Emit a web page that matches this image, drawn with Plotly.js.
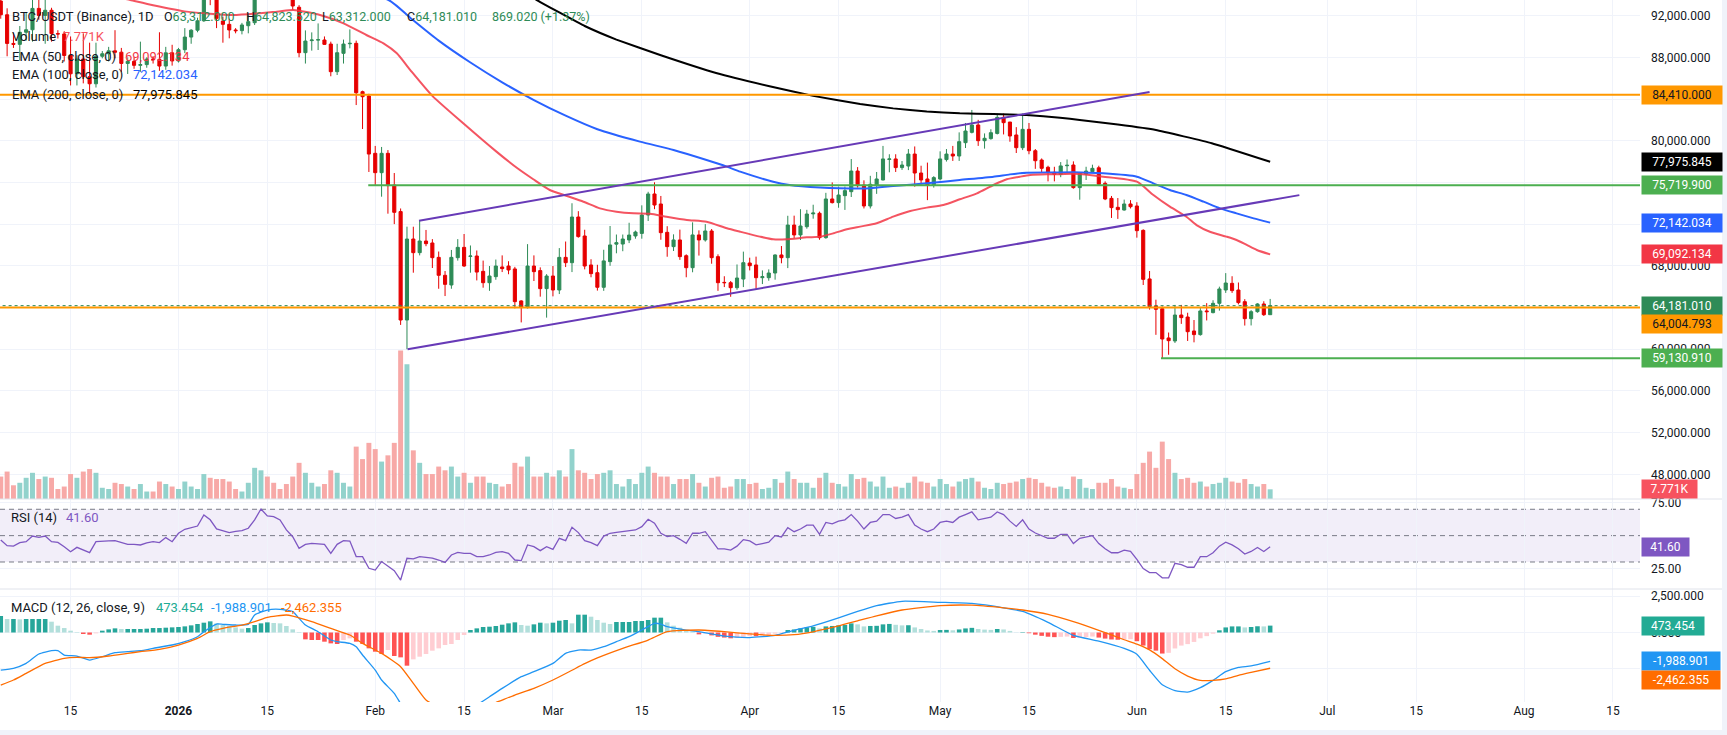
<!DOCTYPE html>
<html>
<head>
<meta charset="utf-8">
<script src="https://cdn.plot.ly/plotly-3.0.1.min.js"></script>
<style>
html,body{margin:0;padding:0;background:#ffffff;}
#chart{width:1727px;height:735px;}
</style>
</head>
<body>
<div id="chart"></div>
<script>
// ---- BTC/USDT daily candles, first bar = 2025-12-04 (day -28 relative to 2026-01-01) ----
const firstDay = -28;

const open = [
93400,92080,89330,89240,90400,90640,92690,92020,92510,90270,
90240,88170,86420,87840,86140,85460,88100,88340,88620,88490,
87410,87610,87230,87300,87830,87800,87160,88430,87650,88730,
89940,90600,91500,93880,93700,91480,91160,90620,90560,91030,
91320,95400,96900,95600,95500,95100,93900,92800,88445,89600,
89650,89660,89270,86620,88380,89300,89340,84700,84290,78790,
76935,78790,75750,73200,62800,70570,69260,70380,70190,68810,
67090,66160,68780,69770,68900,68940,67470,66380,66960,67890,
67980,67700,64630,63990,67980,67540,65810,67020,65680,68810,
68300,72680,70860,68080,67340,65940,68400,70080,70090,70480,
70860,71110,72870,74890,73930,71210,69840,70480,68970,67820,
70960,70480,71340,68880,66410,66380,65900,66730,68270,68080,
66860,66860,67310,69040,68780,71910,70960,71750,72980,73040,
70700,74410,74060,74730,75110,77090,75750,73740,75750,76230,
78200,78250,77420,77570,78720,76900,76330,75750,76330,78190,
78720,78530,79810,80800,81510,80000,80200,80700,82240,81790,
80550,79330,81090,79040,78150,77450,76970,76780,77600,77670,
75500,76810,77030,77400,75910,74470,73610,73350,73930,73740,
71400,66740,64150,63890,61080,60790,63280,63090,61750,61400,
63670,63510,64400,65680,66320,65680,64560,62930,63600,64340,
63312];

const high = [
94100,92700,90300,91000,92300,94600,94400,93500,92750,90600,
90500,90000,88200,90300,89400,89400,88600,89000,90600,88900,
88000,88000,89500,88000,88100,90400,89000,89200,88900,90800,
90700,91800,94700,94800,94000,91900,91700,90800,91300,92200,
96200,97900,97200,95900,95700,95400,94000,93000,90580,90390,
91250,90000,89500,89300,89700,90680,89600,84800,84500,79500,
79400,79100,76900,73500,71755,71750,72300,71440,70560,69370,
67500,69520,70560,71050,69950,69470,68500,67980,68600,69000,
68440,67900,64700,70080,69000,67850,67200,67980,69700,70330,
74000,73240,71460,68630,68100,69540,71820,71000,71000,72130,
71380,73800,75100,76010,74700,71800,71020,71470,69100,72170,
71400,72000,71530,69100,67000,66540,68130,69360,68780,68880,
67560,67660,69100,69900,72800,72810,73430,73370,73860,73200,
75000,76000,75600,75600,78240,77470,76200,76630,77000,79500,
78700,78700,78050,79200,79450,77600,77900,76600,78980,79200,
79500,80800,81700,82950,82000,80700,81100,82600,82600,81800,
81300,82600,81700,79200,78300,77600,77500,77950,78200,78020,
77000,77500,77700,77600,76100,74700,74500,74350,74300,74100,
71500,67500,64750,64100,61600,64250,64250,63500,62800,64000,
64420,64700,66000,67300,67000,66400,64800,63750,64410,64600,
64823.52];

const low = [
91700,88100,88900,87700,89600,89500,91600,89300,89500,89800,
87600,85300,85300,85500,84450,85100,87900,87600,87900,86600,
86400,86900,86600,87000,87400,86700,86800,87200,87500,88400,
89300,90400,91400,93000,90800,89400,89820,90300,90200,90300,
91100,94800,95100,94300,94900,93700,92540,88000,87400,88640,
88700,89200,86180,86300,87400,88860,83420,81120,77000,75750,
74630,73000,72000,62330,60000,67340,69000,69880,67790,65800,
65100,65800,68500,67900,67340,66600,65900,65600,66660,67400,
67190,63920,62570,63900,66540,65040,63030,65070,65290,67880,
67400,70700,67660,66900,65620,65600,68000,69200,69400,70180,
70600,70600,72300,73430,70500,68870,69420,68570,66900,67380,
68980,70320,68200,65600,65960,65030,65700,65960,67560,65800,
66250,66570,66670,68240,67780,70640,70480,71560,72520,70500,
70600,73980,73570,73360,74600,75500,73500,73500,74900,76200,
76970,77000,77200,77180,75590,75790,74300,75500,76200,78000,
78060,78060,79300,80700,79500,79240,80100,80600,80600,79900,
78820,79100,78700,77300,76900,76100,76100,76500,77000,75400,
74340,76230,76900,75700,74300,72590,72500,73300,73500,70700,
66160,63800,61380,59130.91,59470,60600,62430,60790,60660,61300,
62760,63440,63700,65400,65400,64300,62270,62280,63500,63190,
63312];

const close = [
92080,89330,89240,90400,90640,92690,92020,92510,90270,90240,
88170,86420,87840,86140,85460,88100,88340,88620,88490,87410,
87610,87230,87300,87830,87800,87160,88430,87650,88730,89940,
90600,91500,93880,93700,91740,91160,90620,90550,91100,91420,
95400,96900,95600,95500,95100,93900,92920,88445,89560,89660,
89690,89240,86620,88440,89270,89340,84600,84220,78720,76935,
78790,75690,73130,62800,70570,69260,70380,70125,68780,67090,
66220,68810,69770,67980,68940,67400,66380,67020,67980,67730,
67600,64560,63990,67980,67440,65810,67020,65680,68810,68300,
72680,70800,67980,67250,65940,68470,70000,70220,70570,70950,
71240,72870,74890,73830,71180,69840,70480,68880,67820,70960,
70480,71340,68780,66380,66380,65900,66830,68300,68010,66860,
66960,67310,69040,68780,71910,70960,71820,72970,73060,70700,
74410,74060,74790,75210,77090,75690,73740,75820,76330,78250,
78250,77420,77670,78720,76900,76230,75750,76460,78250,78720,
78530,79910,80930,81510,80000,80230,80770,82240,81730,80450,
79330,81090,79040,78080,77350,76940,76780,77580,77640,75500,
76870,77090,77350,75820,74410,73580,73390,73930,73670,71370,
66700,64080,63830,60980,60820,63280,63030,61680,61400,63670,
63600,64400,65780,66350,65620,64470,62930,63600,64340,63311.99,
64181.01];

// volume, thousands of BTC
const volumeK = [
18,22,11,13,17,21,16,18,17,8,10,20,17,22,24,21,9,8,13,12,10,8,12,6,6,14,12,10,
8,14,10,8,20,17,16,16,14,8,6,13,25,23,18,13,8,12,18,29,21,13,10,12,23,21,13,10,42,32,45,
40,30,35,45,119,108,39,29,20,20,26,23,26,18,21,13,18,18,13,12,10,12,29,26,34,18,18,21,
18,23,18,40,23,21,16,20,21,23,12,10,16,12,21,26,21,18,18,12,16,16,20,13,10,17,18,9,10,16,16,
12,13,8,9,16,13,22,16,13,13,9,17,21,13,12,10,20,16,17,14,10,18,9,10,9,13,18,14,13,10,
16,12,10,14,16,17,14,9,8,13,12,13,14,16,17,16,13,10,9,10,8,18,16,9,8,13,13,16,10,9,8,
20,29,38,25,46,32,21,16,17,13,14,10,12,13,17,14,13,16,12,10,12,7.771];

// RSI(14), one value per bar
const rsi = [
46.7,42.4,42.1,44.7,45.4,49.7,48.7,49.7,45.4,44.9,41.6,37.8,41.1,39,37.1,45.4,45.9,46,46.2,44.5,43.4,43.4,42.9,44.5,45.4,44.7,48.5,45.4,
51.8,54.8,56,57.3,65.7,62,55.1,53.8,52.3,53.3,53.8,55.6,61.9,70.2,64.9,64.4,61.9,54.3,49.2,40.4,43.4,44.2,44,43.4,36.6,43.4,46.2,45.9,34.1,34.1,25.2,
23.9,30.3,26.5,23.4,16.3,32.8,32.3,34.1,33.5,33,31.5,29.7,35.3,37.3,36.5,36.5,34.1,34.1,35.3,37.3,37.8,36.5,31.5,31,42.9,41.6,38.6,41.6,
39.6,48,46.2,56.3,52.3,46.2,44.7,42.4,49.7,51.8,52.5,53,53.3,54.3,56.8,62.4,59.4,51.8,49.2,50,47.2,44.2,51.8,51.8,53,46,40,40,39,42,47,
46,43,44,45,50,49,56,53,55,58,58,51,60,59,61,62,66,61,55,60,61,66,66,63,64,66,58,55,53,55,
60,61,60,64,66,68,62,63,64,68,66,61,57,62,55,52,50,48,48,51,51,44,48,49,50,44,40,37,37,39,38,
32,25,22,22,18,18,29,28,26,26,34,34,37,42,45,43,40,36,38,41,38,41.6];

// MACD(12,26,9) histogram, one value per bar
const macdHist = [
1135,928,928,905,928,928,928,928,745,469,308,125,33,-105,-151,-59,125,217,285,240,
240,240,240,262,308,308,331,354,377,423,492,584,676,768,630,515,446,354,262,308,
515,630,699,653,630,446,217,33,-472,-518,-518,-633,-748,-794,-518,-403,-633,-794,-1092,-1322,
-1483,-1207,-1620,-1712,-2286,-1850,-1666,-1483,-1253,-1092,-862,-794,-518,-174,171,285,377,400,446,538,
630,699,515,469,561,676,630,676,814,860,630,1227,1227,1089,860,676,584,722,722,722,
791,791,860,1021,1021,699,469,331,171,56,-128,-59,
-200,-300,-350,-400,-380,-300,-250,-250,-220,-180,
-80,-30,170,210,280,360,390,280,420,450,
490,520,630,560,420,450,460,560,590,530,
490,500,350,240,140,110,170,180,150,210,
280,320,240,200,180,240,210,110,15,30,
-50,-150,-230,-290,-320,-300,-280,-380,-360,-320,
-280,-350,-420,-480,-500,-470,-460,-600,-900,-1150,
-1250,-1450,-1400,-1100,-900,-800,-650,-400,-250,-80,
150,350,420,420,350,380,430,420,473.454];

// MACD and signal lines, sampled (day relative to 2026-01-01, value)
const macdDays = [-28,-26,-24,-22,-20,-19,-18,-16,-14,-12,-10,-8,-6,-4,-1,1,3,4,6,7,9,11,12,14,16,18,19,20,22,24,25,27,28,29,31,32,34,35,36,38,41,44,47,49,51,54,56,59,61,63,65,67,69,71,73,75,76,77,80,82,86,90,94,97,100,104,107,110,114,120,125,130,133,137,141,145,149,151,153,155,157,159,161,163,165,167,169,172];
const macdVals = [-2585,-2470,-2125,-1483,-1253,-1253,-1551,-1620,-1896,-1666,-1391,-1322,-1253,-1092,-862,-633,-289,56,584,561,515,561,1204,1548,1594,1433,974,515,56,-518,-633,-748,-977,-1551,-2585,-3273,-4192,-4900,-5500,-6100,-6300,-5800,-5000,-4422,-3847,-3044,-2699,-2125,-1437,-1207,-1207,-977,-633,-289,171,630,584,400,171,56,-250,-350,-200,150,450,1000,1450,1850,2150,2080,2000,1700,1450,700,-200,-600,-1100,-1500,-2600,-3600,-4000,-4100,-3800,-3300,-2700,-2400,-2300,-1988.901];
const signalDays = [-28,-26,-24,-21,-18,-16,-14,-11,-8,-6,-3,0,3,5,7,10,12,14,17,18,21,24,27,29,32,35,37,39,41,44,47,49,51,53,56,59,62,64,66,70,74,77,82,86,90,94,97,100,104,107,110,114,120,125,130,133,137,141,145,149,151,153,155,157,159,161,163,165,167,169,172];
const signalVals = [-3618,-3273,-2814,-2125,-1781,-1712,-1735,-1620,-1437,-1322,-1161,-862,-403,56,285,515,745,1043,1204,1135,745,285,-174,-748,-1437,-2355,-3503,-4651,-5100,-5500,-5300,-5000,-4651,-4307,-3847,-3273,-2600,-2150,-1750,-1092,-518,56,171,60,-100,-200,-150,50,450,800,1150,1550,1850,1880,1700,1550,1250,750,150,-500,-800,-1200,-1800,-2500,-3000,-3300,-3300,-3200,-2950,-2750,-2462.355];

// Moving averages, sampled
const ema50Days = [-28,-20,-12,-7.6,-4,1.3,8.6,15.5,18.1,22.3,26,29.6,32.3,34.4,36.5,40,45,50,53.3,55.9,58.5,61.2,63.8,66.4,69,71.7,74.3,76.9,80.1,83.2,86.4,88.5,91.6,93.7,95.8,99,101.1,103.2,105.3,107.4,110,112.6,115.3,117.9,120.5,123.1,125.8,128.4,130.5,132.6,134.2,136.8,138.9,141,145.7,151,153.6,156.2,158.8,160.4,162.5,165.1,166.7,168.3,169.9,172];
const ema50Vals = [96300,95000,94100,93496,93000,92380,92060,92380,92540,92060,91260,90140,89340,88380,86800,84300,81600,79000,77400,76300,75270,74700,74150,73510,73190,73030,72990,72710,72400,72230,71600,71270,70800,70540,70540,70730,70800,71120,71500,71760,72080,72715,73260,73580,73830,74380,74950,75750,76300,76550,76710,76780,76780,76820,76550,76070,74790,73670,72710,71910,71270,70800,70480,70000,69520,69092.134];
const ema100Days = [-28,0,20,33.1,36.5,41,46,51,56,61,66,72.7,78,83.2,86.4,88.5,93.7,96.3,101.1,104.2,109,112.6,117.9,123.1,128.4,131,133.6,138,141,145.7,151,153.6,156.2,158.8,161.5,164.1,166.7,169.4,172];
const ema100Vals = [98500,96800,95300,93496,91800,89600,87500,85600,83900,82400,81100,79910,79110,78150,77510,77030,76070,75750,75500,75430,75430,75660,75910,76230,76550,76770,76930,76950,76980,76870,76550,75910,75270,74790,74150,73510,73030,72550,72142.034];
const ema200Days = [-28,0,28,40,48,52,55,57,60,64,69,76,84.7,93.3,100,107.4,112.6,117.9,123.1,128.4,133.6,138.9,142,148,154,162.8,172];
const ema200Vals = [104500,102000,99600,97600,95800,94900,94000,93300,92300,91000,89700,88200,86500,85200,84300,83520,83100,82790,82630,82560,82470,82210,81990,81550,81030,79760,77975.845];

// Drawings: horizontal levels and the rising channel
const levelPrices = [84410, 64004.793, 75719.9, 59130.91];
const levelStartDays = [-40, -40, 29.9, 154.8];
const levelColors = ['#ff9800', '#ff9800', '#4caf50', '#4caf50'];
const channelUpperDays = [37.9, 153.0];
const channelUpperPrices = [72330, 84670];
const channelLowerDays = [36.1, 176.6];
const channelLowerPrices = [59990, 74780];

// Time axis labels
const tickDates = ['2025-12-15','2026-01-01','2026-01-15','2026-02-01','2026-02-15','2026-03-01','2026-03-15','2026-04-01','2026-04-15','2026-05-01','2026-05-15','2026-06-01','2026-06-15','2026-07-01','2026-07-15','2026-08-01','2026-08-15'];
const tickLabels = ['15','<b>2026</b>','15','Feb','15','Mar','15','Apr','15','May','15','Jun','15','Jul','15','Aug','15'];

// ---------------------------------------------------------------
const DAY = 86400000;
const BASE = Date.UTC(2026, 0, 1);
function dayX(d) { return new Date(BASE + d * DAY).toISOString().slice(0, 19).replace('T', ' '); }
const dates = open.map((_, i) => dayX(firstDay + i));
const last = close.length - 1;

const W = 1727, H = 735, PLOT_W = 1640, PLOT_H = 702;
const px = x => x / PLOT_W;            // pixel -> paper x
const py = y => (PLOT_H - y) / PLOT_H; // pixel -> paper y

const UP = '#2e8b57', DOWN = '#e60000';
const FONT = 'Roboto, "Liberation Sans", Arial, sans-serif';
const TXT = '#131722';
const GRID = '#f0f3fa';

const volColors = close.map((c, i) => c >= open[i] ? '#92d2cc' : '#f7a9a7');
const histColors = macdHist.map((v, i) => {
  const prev = i > 0 ? macdHist[i - 1] : v;
  if (v >= 0) return v >= prev ? '#26a69a' : '#b2dfdb';
  return v <= prev ? '#ff5252' : '#ffcdd2';
});

const traces = [
  { type: 'bar', x: dates, y: volumeK, xaxis: 'x', yaxis: 'y',
    marker: { color: volColors, line: { width: 0 } }, width: 0.78 * DAY, hoverinfo: 'skip' },
  { type: 'candlestick', x: dates, open: open, high: high, low: low, close: close,
    xaxis: 'x', yaxis: 'y2',
    increasing: { line: { color: UP, width: 1 }, fillcolor: UP },
    decreasing: { line: { color: DOWN, width: 1 }, fillcolor: DOWN },
    whiskerwidth: 0, hoverinfo: 'skip' },
  { type: 'scatter', mode: 'lines', x: ema200Days.map(dayX), y: ema200Vals, xaxis: 'x', yaxis: 'y2',
    line: { color: '#000000', width: 2, shape: 'spline', smoothing: 0.3 }, hoverinfo: 'skip' },
  { type: 'scatter', mode: 'lines', x: ema100Days.map(dayX), y: ema100Vals, xaxis: 'x', yaxis: 'y2',
    line: { color: '#2962ff', width: 2, shape: 'spline', smoothing: 0.6 }, hoverinfo: 'skip' },
  { type: 'scatter', mode: 'lines', x: ema50Days.map(dayX), y: ema50Vals, xaxis: 'x', yaxis: 'y2',
    line: { color: 'rgba(242,54,69,0.85)', width: 2, shape: 'spline', smoothing: 0.6 }, hoverinfo: 'skip' },
  { type: 'scatter', mode: 'lines', x: dates, y: rsi, xaxis: 'x', yaxis: 'y3',
    line: { color: '#7e57c2', width: 1.3 }, hoverinfo: 'skip' },
  { type: 'bar', x: dates, y: macdHist, xaxis: 'x', yaxis: 'y4',
    marker: { color: histColors, line: { width: 0 } }, width: 0.72 * DAY, hoverinfo: 'skip' },
  { type: 'scatter', mode: 'lines', x: macdDays.map(dayX), y: macdVals, xaxis: 'x', yaxis: 'y4',
    line: { color: '#2196f3', width: 1.3, shape: 'spline', smoothing: 0.5 }, hoverinfo: 'skip' },
  { type: 'scatter', mode: 'lines', x: signalDays.map(dayX), y: signalVals, xaxis: 'x', yaxis: 'y4',
    line: { color: '#ff6d00', width: 1.3, shape: 'spline', smoothing: 0.5 }, hoverinfo: 'skip' }
];

const shapes = [];
// RSI band and guides
shapes.push({ type: 'rect', xref: 'paper', yref: 'y3', x0: 0, x1: 1, y0: 30, y1: 70,
  fillcolor: 'rgba(126,87,194,0.1)', line: { width: 0 }, layer: 'below' });
[70, 50, 30].forEach(v => shapes.push({ type: 'line', xref: 'paper', yref: 'y3', x0: 0, x1: 1, y0: v, y1: v,
  line: { color: '#787b86', width: 1, dash: '5px,4px' }, layer: 'below' }));
// horizontal levels
levelPrices.forEach((p, i) => shapes.push({ type: 'line', xref: 'x', yref: 'y2',
  x0: dayX(levelStartDays[i]), x1: dayX(260), y0: p, y1: p,
  line: { color: levelColors[i], width: 2 }, layer: 'above' }));
// last price line
shapes.push({ type: 'line', xref: 'x', yref: 'y2', x0: dayX(-40), x1: dayX(260),
  y0: close[last], y1: close[last], line: { color: UP, width: 1, dash: 'dot' }, layer: 'above' });
// channel
shapes.push({ type: 'line', xref: 'x', yref: 'y2',
  x0: dayX(channelUpperDays[0]), x1: dayX(channelUpperDays[1]), y0: channelUpperPrices[0], y1: channelUpperPrices[1],
  line: { color: '#673ab7', width: 2 }, layer: 'above' });
shapes.push({ type: 'line', xref: 'x', yref: 'y2',
  x0: dayX(channelLowerDays[0]), x1: dayX(channelLowerDays[1]), y0: channelLowerPrices[0], y1: channelLowerPrices[1],
  line: { color: '#673ab7', width: 2 }, layer: 'above' });
// pane separators
[499, 589].forEach(y => shapes.push({ type: 'line', xref: 'paper', yref: 'paper',
  x0: 0, x1: px(1722), y0: py(y), y1: py(y), line: { color: '#e0e3eb', width: 1 } }));
// outer frame
shapes.push({ type: 'rect', xref: 'paper', yref: 'paper', x0: px(0), x1: px(W), y0: py(730), y1: py(H + 2),
  fillcolor: '#f0f3fa', line: { width: 0 } });
shapes.push({ type: 'rect', xref: 'paper', yref: 'paper', x0: px(1722), x1: px(W + 2), y0: py(H + 2), y1: py(-2),
  fillcolor: '#f0f3fa', line: { width: 0 } });

const annotations = [];
function txt(x, y, text, color, size) {
  annotations.push({ xref: 'paper', yref: 'paper', x: px(x), y: py(y), xanchor: 'left', yanchor: 'middle',
    text: text, showarrow: false, font: { family: FONT, size: size || 13, color: color } });
}
const fmt = (v, d) => v.toLocaleString('en-US', { minimumFractionDigits: d, maximumFractionDigits: d });
const chg = close[last] - close[last - 1];
const chgPct = chg / close[last - 1] * 100;

txt(10, 17, 'BTC/USDT (Binance), 1D', TXT);
txt(162, 17, 'O<span style="color:' + UP + '">' + fmt(open[last], 3) + '</span>', TXT, 12.5);
txt(244, 17, 'H<span style="color:' + UP + '">' + fmt(high[last], 3) + '</span>', TXT, 12.5);
txt(320, 17, 'L<span style="color:' + UP + '">' + fmt(low[last], 3) + '</span>', TXT, 12.5);
txt(405, 17, 'C<span style="color:' + UP + '">' + fmt(close[last], 3) + '</span>', TXT, 12.5);
txt(490, 17, fmt(chg, 3) + ' (+' + chgPct.toFixed(2) + '%)', UP, 12.5);
txt(10, 37, 'Volume', TXT);
txt(61, 37, fmt(volumeK[last], 3) + 'K', '#f7525f');
txt(10, 56, 'EMA (50, close, 0)', TXT);
txt(123, 56, fmt(ema50Vals[ema50Vals.length - 1], 3), '#f23645');
txt(10, 75, 'EMA (100, close, 0)', TXT);
txt(131, 75, fmt(ema100Vals[ema100Vals.length - 1], 3), '#2962ff');
txt(10, 94, 'EMA (200, close, 0)', TXT);
txt(131, 94, fmt(ema200Vals[ema200Vals.length - 1], 3), '#000000');
txt(9, 517, 'RSI (14)', TXT);
txt(64, 517, rsi[last].toFixed(2), '#7e57c2');
txt(9, 607, 'MACD (12, 26, close, 9)', TXT);
txt(154, 607, fmt(macdHist[last], 3), '#22ab94');
txt(209, 607, fmt(macdVals[macdVals.length - 1], 3), '#2196f3');
txt(279, 607, fmt(signalVals[signalVals.length - 1], 3), '#ff6d00');

function tag(yref, value, text, bg, fg, width, shift) {
  annotations.push({ xref: 'paper', yref: yref, x: px(1641), y: value, xanchor: 'left', yanchor: 'middle',
    yshift: shift || 0, text: text, showarrow: false, bgcolor: bg, borderpad: 0,
    width: width, height: 18, align: 'center',
    font: { family: FONT, size: 12, color: fg } });
}
tag('y2', levelPrices[0], fmt(levelPrices[0], 3), '#ff9800', TXT, 80);
tag('y2', ema200Vals[ema200Vals.length - 1], fmt(ema200Vals[ema200Vals.length - 1], 3), '#000000', '#ffffff', 80);
tag('y2', levelPrices[2], fmt(levelPrices[2], 3), '#4caf50', '#ffffff', 80);
tag('y2', ema100Vals[ema100Vals.length - 1], fmt(ema100Vals[ema100Vals.length - 1], 3), '#2962ff', '#ffffff', 80);
tag('y2', ema50Vals[ema50Vals.length - 1], fmt(ema50Vals[ema50Vals.length - 1], 3), '#f23645', '#ffffff', 80);
tag('y2', close[last], fmt(close[last], 3), UP, '#ffffff', 80);
tag('y2', levelPrices[1], fmt(levelPrices[1], 3), '#ff9800', TXT, 80, -17);
tag('y2', levelPrices[3], fmt(levelPrices[3], 3), '#4caf50', '#ffffff', 80);
tag('y', volumeK[last], fmt(volumeK[last], 3) + 'K', '#f7525f', '#ffffff', 55);
tag('y3', rsi[last], rsi[last].toFixed(2), '#7e57c2', '#ffffff', 47);
tag('y4', macdHist[last], fmt(macdHist[last], 3), '#22ab94', '#ffffff', 62);
tag('y4', macdVals[macdVals.length - 1], fmt(macdVals[macdVals.length - 1], 3), '#2196f3', '#ffffff', 78);
tag('y4', signalVals[signalVals.length - 1], fmt(signalVals[signalVals.length - 1], 3), '#ff6d00', '#ffffff', 78, -12);

const priceTicks = [48000, 52000, 56000, 60000, 64000, 68000, 72000, 76000, 80000, 84000, 88000, 92000];
const priceHidden = [64000, 72000, 76000, 84000];
const tickFont = { family: FONT, size: 12, color: TXT };

const layout = {
  width: W, height: H,
  margin: { l: 0, r: W - PLOT_W, t: 0, b: H - PLOT_H },
  paper_bgcolor: '#ffffff', plot_bgcolor: '#ffffff',
  showlegend: false, hovermode: false, dragmode: false,
  font: { family: FONT, size: 12, color: TXT },
  xaxis: {
    type: 'date', anchor: 'y4', range: [dayX(-28.12), dayX(230.27)],
    tickvals: tickDates, ticktext: tickLabels, tickfont: tickFont,
    showgrid: true, gridcolor: GRID, gridwidth: 1, ticks: '', showline: false, zeroline: false,
    rangeslider: { visible: false }, fixedrange: true
  },
  yaxis: { domain: [py(499), 1], range: [0, 400], visible: false, showgrid: false, fixedrange: true },
  yaxis2: {
    domain: [py(499), 1], overlaying: 'y', side: 'right', anchor: 'x',
    range: [45633, 93496], tickvals: priceTicks,
    ticktext: priceTicks.map(v => priceHidden.includes(v) ? '' : fmt(v, 3)),
    tickfont: tickFont, showgrid: true, gridcolor: GRID, gridwidth: 1, zeroline: false,
    ticks: '', ticklabelstandoff: 10, showline: false, fixedrange: true
  },
  yaxis3: {
    domain: [py(589), py(499)], side: 'right', anchor: 'x', range: [9.5, 77.8],
    tickvals: [25, 75], ticktext: ['25.00', '75.00'], tickfont: tickFont,
    showgrid: true, gridcolor: GRID, zeroline: false, ticks: '', ticklabelstandoff: 10, fixedrange: true
  },
  yaxis4: {
    domain: [0, py(589)], side: 'right', anchor: 'x', range: [-4787, 2996],
    tickvals: [-2500, 0, 2500], ticktext: ['', '0.000', '2,500.000'], tickfont: tickFont,
    showgrid: true, gridcolor: GRID, zeroline: false, ticks: '', ticklabelstandoff: 10, fixedrange: true
  },
  shapes: shapes,
  annotations: annotations
};

Plotly.newPlot('chart', traces, layout, { displayModeBar: false, staticPlot: true });
</script>
</body>
</html>
